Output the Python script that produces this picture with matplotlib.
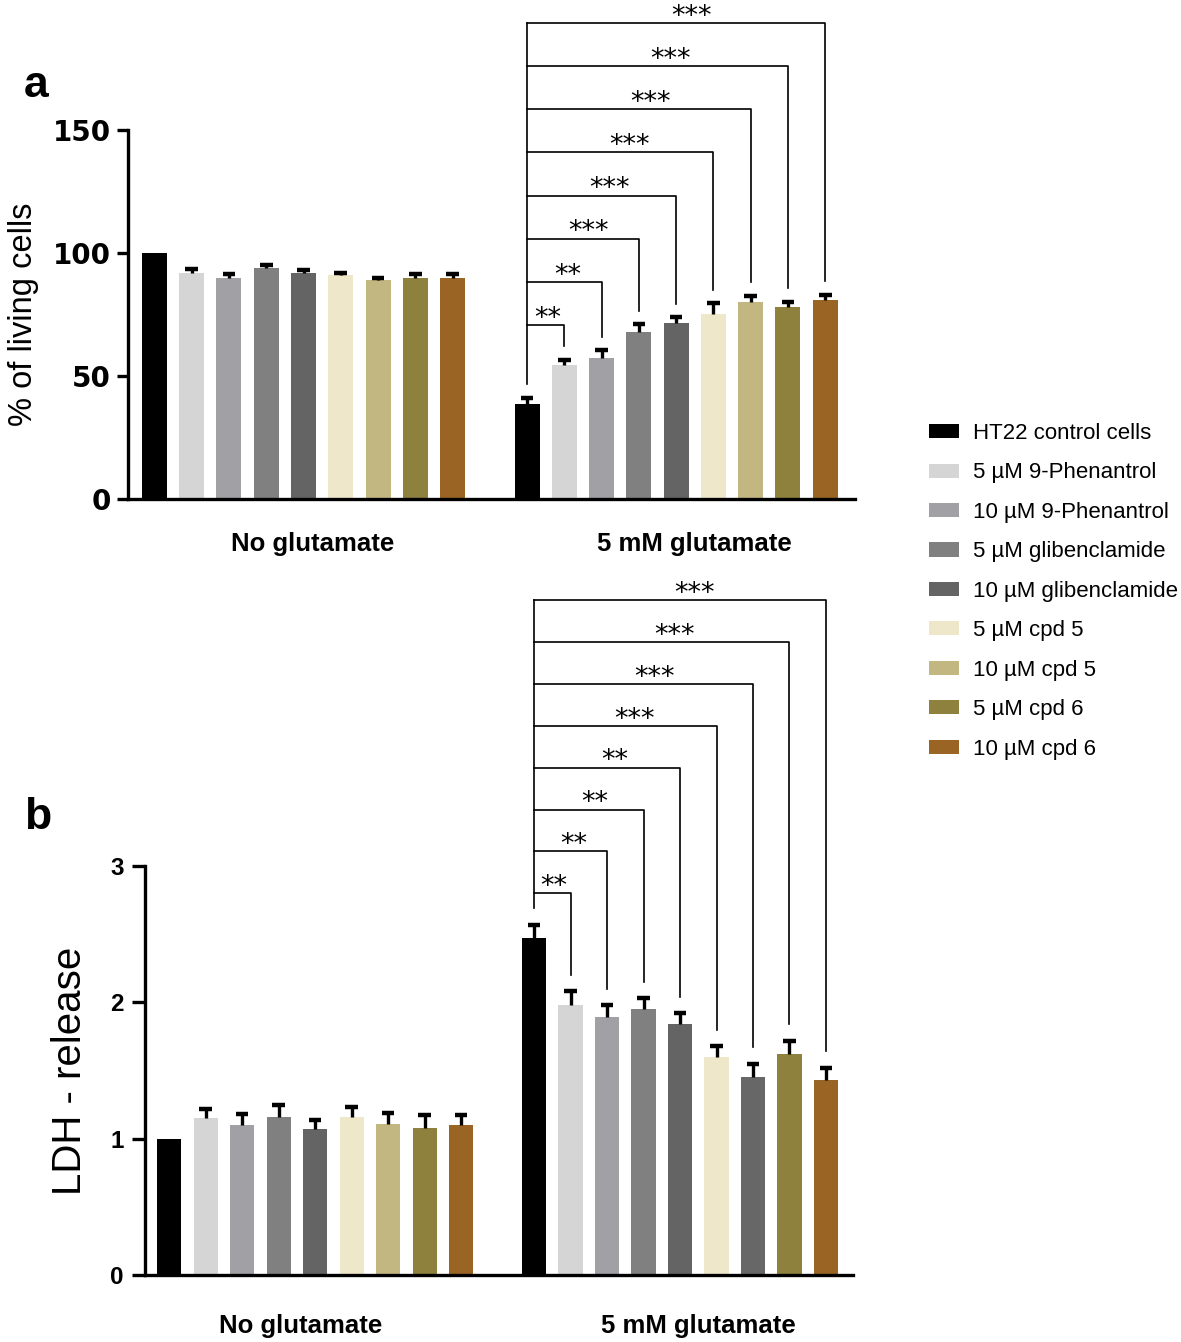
import numpy as np
import matplotlib
matplotlib.use("Agg")
import matplotlib.pyplot as plt
from matplotlib.patches import Patch
from matplotlib.transforms import blended_transform_factory

plt.rcParams['font.family'] = ['Liberation Sans', 'DejaVu Sans']

# ---- data ----
treatments = ["HT22 control cells", "5 µM 9-Phenantrol", "10 µM 9-Phenantrol",
              "5 µM glibenclamide", "10 µM glibenclamide", "5 µM cpd 5",
              "10 µM cpd 5", "5 µM cpd 6", "10 µM cpd 6"]
colors = ["#000000", "#d5d5d5", "#a0a0a5", "#808080", "#646464",
          "#eee7c9", "#c3b781", "#8d813d", "#9a6424"]
# in panel b the 10 µM cpd 5 bar of the glutamate group is printed dark grey
colors_b_glu = colors[:6] + ["#676767"] + colors[7:]
groups = ["No glutamate", "5 mM glutamate"]

viab_no = [100, 91.7, 90.0, 93.7, 91.7, 91.1, 88.9, 90.0, 90.0]
viab_no_err = [0, 1.6, 1.3, 1.6, 1.4, 0.8, 1.0, 1.6, 1.6]
viab_glu = [38.8, 54.5, 57.4, 67.9, 71.6, 75.4, 80.2, 78.0, 80.9]
viab_glu_err = [2.4, 2.2, 3.0, 3.1, 2.2, 4.2, 2.4, 2.2, 2.2]
viab_stars = ["**", "**", "***", "***", "***", "***", "***", "***"]

ldh_no = [1.00, 1.15, 1.10, 1.16, 1.07, 1.16, 1.11, 1.08, 1.10]
ldh_no_err = [0, 0.07, 0.08, 0.09, 0.07, 0.07, 0.08, 0.09, 0.07]
ldh_glu = [2.47, 1.98, 1.89, 1.95, 1.84, 1.60, 1.45, 1.62, 1.43]
ldh_glu_err = [0.10, 0.10, 0.09, 0.08, 0.08, 0.08, 0.10, 0.10, 0.09]
ldh_stars = ["**", "**", "**", "**", "***", "***", "***", "***"]

x_no = np.arange(9)
x_glu = np.arange(9) + 10

fig = plt.figure(figsize=(11.81, 13.42), dpi=100)
ax_a = fig.add_axes([128 / 1181, 1 - 499 / 1342, 727 / 1181, 369 / 1342])
ax_b = fig.add_axes([145 / 1181, 1 - 1275 / 1342, 708 / 1181, 409 / 1342])


def draw_panel(ax, no_vals, no_err, glu_vals, glu_err, glu_colors, stars,
               ymax, gap, br_base, br_step, width, cap):
    ax.bar(x_no, no_vals, width=width, color=colors, zorder=2)
    ax.bar(x_glu, glu_vals, width=width, color=glu_colors, zorder=2)
    for xs, vals, errs in [(x_no, no_vals, no_err), (x_glu, glu_vals, glu_err)]:
        vals = np.array(vals)
        tops = vals + np.array(errs)
        keep = np.array(errs) > 0
        ax.vlines(xs[keep], vals[keep], tops[keep], color="black", lw=2.4, zorder=3)
        ax.hlines(tops[keep], xs[keep] - cap, xs[keep] + cap, color="black",
                  lw=3.2, zorder=3)

    # significance brackets (control vs each treatment, glutamate group)
    glu_tops = np.array(glu_vals) + np.array(glu_err)
    x0 = x_glu[0]
    top = br_base + br_step * (len(stars) - 1)
    ax.plot([x0, x0], [glu_tops[0] + gap, top], color="black", lw=1.2,
            clip_on=False)
    for i, s in enumerate(stars):
        xt = x_glu[i + 1]
        y = br_base + br_step * i
        ax.plot([x0, xt, xt], [y, y, glu_tops[i + 1] + gap], color="black",
                lw=1.2, clip_on=False)
        ax.annotate(s, (x0 + 0.55 * (xt - x0), y), xytext=(0, 4.5),
                    textcoords="offset points", ha="center", va="center",
                    fontsize=19.5, family="DejaVu Sans", annotation_clip=False)

    ax.set_ylim(0, ymax)
    ax.spines[["top", "right"]].set_visible(False)
    ax.spines[["left", "bottom"]].set_linewidth(2.4)
    ax.tick_params(axis="x", length=0, labelbottom=False)
    ax.tick_params(axis="y", length=8, width=2.4, direction="out")


draw_panel(ax_a, viab_no, viab_no_err, viab_glu, viab_glu_err, colors,
           viab_stars, 150, 5.5, 70.7, 17.55, 0.67, 0.17)
ax_a.set_xlim(-0.71, 18.8)
ax_a.set_yticks([0, 50, 100, 150])
ax_a.set_yticklabels(["0", "50", "100", "150"], fontsize=20, fontweight="bold",
                     family="DejaVu Sans")
ax_a.tick_params(axis="y", pad=4.5)
ax_a.set_ylabel("% of living cells", fontsize=23.5)
ax_a.yaxis.set_label_coords(-0.122, 0.5)

draw_panel(ax_b, ldh_no, ldh_no_err, ldh_glu, ldh_glu_err, colors_b_glu,
           ldh_stars, 3, 0.12, 2.80, 0.307, 0.66, 0.17)
ax_b.set_xlim(-0.66, 18.74)
ax_b.set_yticks([0, 1, 2, 3])
ax_b.set_yticklabels(["0", "1", "2", "3"], fontsize=17.5, fontweight="bold")
ax_b.tick_params(axis="y", length=9.5, pad=6)
ax_b.set_ylabel("LDH - release", fontsize=29)
ax_b.yaxis.set_label_coords(-0.079, 0.5)

# group labels
for ax, xs, yy in [(ax_a, [4.25, 14.5], -0.122), (ax_b, [3.6, 14.5], -0.125)]:
    tr = blended_transform_factory(ax.transData, ax.transAxes)
    for xg, g in zip(xs, groups):
        ax.text(xg, yy, g, transform=tr, ha="center", va="center",
                fontsize=18.5, fontweight="bold")

# panel letters
fig.text(24 / 1181, 1 - 97 / 1342, "a", fontsize=32, fontweight="bold")
fig.text(24 / 1181, 1 - 829 / 1342, "b", fontsize=32, fontweight="bold")

# legend
handles = [Patch(facecolor=c, edgecolor="none") for c in colors]
fig.legend(handles, treatments, loc="upper left",
           bbox_to_anchor=(929 / 1181, 1 - 423 / 1342), frameon=False,
           fontsize=16, handlelength=1.35, handleheight=0.6,
           handletextpad=0.65, labelspacing=0.83, borderpad=0, borderaxespad=0)

fig.savefig("out.png", dpi=100)
